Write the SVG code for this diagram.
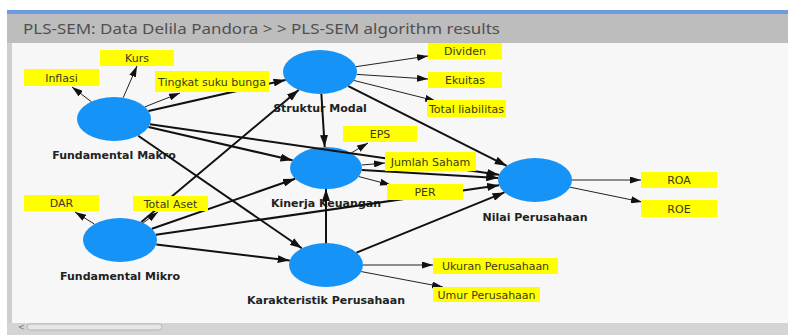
<svg xmlns="http://www.w3.org/2000/svg" width="788" height="335" viewBox="0 0 788 335">
<defs>
<style>
.lat{fill:#1693f6}
.ll{font-family:"DejaVu Sans",sans-serif;font-weight:bold;font-size:11px;fill:#222;text-anchor:middle}
.ind rect{fill:#ffff00}
.ind text{font-family:"DejaVu Sans",sans-serif;font-size:11px;fill:#3a3a1a;text-anchor:middle}
.s{stroke:#111;stroke-width:2;fill:none;marker-end:url(#ab)}
.o{stroke:#222;stroke-width:1;fill:none;marker-end:url(#as)}
</style>
<marker id="ab" markerUnits="userSpaceOnUse" markerWidth="12" markerHeight="8" refX="12" refY="4" orient="auto"><path d="M0,0 L12,4 L0,8 z" fill="#111"/></marker>
<marker id="as" markerUnits="userSpaceOnUse" markerWidth="11" markerHeight="7" refX="11" refY="3.5" orient="auto"><path d="M0,0 L11,3.5 L0,7 z" fill="#111"/></marker>
</defs>
<rect x="0" y="0" width="788" height="335" fill="#ffffff"/>
<rect x="7" y="10" width="781" height="4" fill="#6b9be3"/>
<rect x="7" y="14" width="781" height="29" fill="#bdbdbd"/>
<text x="23" y="34" font-family="'Noto Sans',sans-serif" font-size="15" fill="#505050" textLength="477" lengthAdjust="spacingAndGlyphs">PLS-SEM: Data Delila Pandora &gt; &gt; PLS-SEM algorithm results</text>
<rect x="7" y="43" width="781" height="280" fill="#cfcfcf"/>
<rect x="12" y="43" width="776" height="280" fill="#f7f7f7"/>
<rect x="7" y="323" width="781" height="12" fill="#d4d4d4"/>
<rect x="27" y="324" width="135" height="6" rx="3" fill="#e6e6e6" stroke="#aaaaaa" stroke-width="0.8"/>
<text x="18" y="330" font-family="'DejaVu Sans',sans-serif" font-size="8" fill="#777">&lt;</text>

<g id="fundamental-makro"><ellipse class="lat" cx="114" cy="119" rx="37" ry="22"/><text class="ll" x="114" y="159">Fundamental Makro</text></g>
<g id="struktur-modal"><ellipse class="lat" cx="320" cy="72" rx="37" ry="22"/><text class="ll" x="320" y="112">Struktur Modal</text></g>
<g id="kinerja-keuangan"><ellipse class="lat" cx="326" cy="168" rx="36" ry="21"/><text class="ll" x="326" y="207">Kinerja Keuangan</text></g>
<g id="fundamental-mikro"><ellipse class="lat" cx="120" cy="240" rx="37" ry="22"/><text class="ll" x="120" y="280">Fundamental Mikro</text></g>
<g id="karakteristik-perusahaan"><ellipse class="lat" cx="326" cy="265" rx="37" ry="22"/><text class="ll" x="326" y="304">Karakteristik Perusahaan</text></g>
<g id="nilai-perusahaan"><ellipse class="lat" cx="535" cy="180" rx="37" ry="22"/><text class="ll" x="535" y="221">Nilai Perusahaan</text></g>

<g id="connectors">
<line class="s" x1="148.5" y1="111.1" x2="285.5" y2="79.9"/>
<line class="s" x1="148.5" y1="127" x2="292.5" y2="160.3"/>
<line class="s" x1="149.9" y1="124.2" x2="499.1" y2="174.8"/>
<line class="s" x1="138.2" y1="135.7" x2="301.8" y2="248.3"/>
<line class="s" x1="321.4" y1="94" x2="324.7" y2="147"/>
<line class="s" x1="348.3" y1="86.2" x2="506.7" y2="165.8"/>
<line class="s" x1="141.4" y1="222" x2="298.6" y2="90"/>
<line class="s" x1="151.9" y1="228.8" x2="295.1" y2="178.8"/>
<line class="s" x1="155.9" y1="234.8" x2="499.1" y2="185.2"/>
<line class="s" x1="156.3" y1="244.4" x2="289.7" y2="260.6"/>
<line class="s" x1="326" y1="243" x2="326" y2="189"/>
<line class="s" x1="356.5" y1="252.6" x2="504.5" y2="192.4"/>
<line class="s" x1="361.8" y1="170.1" x2="498.2" y2="177.9"/>
<line class="o" x1="91.3" y1="101.7" x2="72" y2="87"/>
<line class="o" x1="123.2" y1="97.7" x2="137" y2="66"/>
<line class="o" x1="144.8" y1="106.9" x2="180" y2="93"/>
<line class="o" x1="355.9" y1="66.7" x2="428" y2="56"/>
<line class="o" x1="356.9" y1="74.4" x2="428" y2="79"/>
<line class="o" x1="354.1" y1="80.5" x2="436" y2="101"/>
<line class="o" x1="351.2" y1="153" x2="368" y2="143"/>
<line class="o" x1="361.8" y1="165" x2="385" y2="163"/>
<line class="o" x1="358.9" y1="176.6" x2="391" y2="185"/>
<line class="o" x1="572" y1="180" x2="641" y2="180"/>
<line class="o" x1="570" y1="187.2" x2="642" y2="202"/>
<line class="o" x1="94.4" y1="224.1" x2="75" y2="212"/>
<line class="o" x1="143.2" y1="222.9" x2="158" y2="212"/>
<line class="o" x1="363" y1="265" x2="433" y2="265"/>
<line class="o" x1="361.3" y1="271.6" x2="443" y2="287"/>
</g>

<g id="ind-kurs" class="ind"><rect x="100" y="50" width="74" height="16"/><text x="137" y="62">Kurs</text></g>
<g id="ind-inflasi" class="ind"><rect x="24" y="69" width="75" height="17"/><text x="61.5" y="81.5">Inflasi</text></g>
<g id="ind-tingkat-suku-bunga" class="ind"><rect x="155" y="71" width="114" height="21"/><text x="212" y="85.5">Tingkat suku bunga</text></g>
<g id="ind-dividen" class="ind"><rect x="428" y="43" width="74" height="16"/><text x="465" y="55">Dividen</text></g>
<g id="ind-ekuitas" class="ind"><rect x="428" y="72" width="74" height="16"/><text x="465" y="84">Ekuitas</text></g>
<g id="ind-total-liabilitas" class="ind"><rect x="427" y="100" width="79" height="17"/><text x="466.5" y="112.5">Total liabilitas</text></g>
<g id="ind-eps" class="ind"><rect x="343" y="126" width="74" height="16"/><text x="380" y="138">EPS</text></g>
<g id="ind-jumlah-saham" class="ind"><rect x="385" y="152" width="91" height="19"/><text x="430.5" y="165.5">Jumlah Saham</text></g>
<g id="ind-per" class="ind"><rect x="387" y="184" width="76" height="16"/><text x="425" y="196">PER</text></g>
<g id="ind-roa" class="ind"><rect x="641" y="172" width="76" height="16"/><text x="679" y="184">ROA</text></g>
<g id="ind-roe" class="ind"><rect x="641" y="200" width="76" height="17"/><text x="679" y="212.5">ROE</text></g>
<g id="ind-dar" class="ind"><rect x="24" y="195" width="75" height="16"/><text x="61.5" y="207">DAR</text></g>
<g id="ind-total-aset" class="ind"><rect x="133" y="196" width="75" height="15"/><text x="170.5" y="207.5">Total Aset</text></g>
<g id="ind-ukuran-perusahaan" class="ind"><rect x="433" y="258" width="125" height="16"/><text x="495.5" y="270">Ukuran Perusahaan</text></g>
<g id="ind-umur-perusahaan" class="ind"><rect x="433" y="287" width="107" height="15"/><text x="486.5" y="298.5">Umur Perusahaan</text></g>
</svg>
